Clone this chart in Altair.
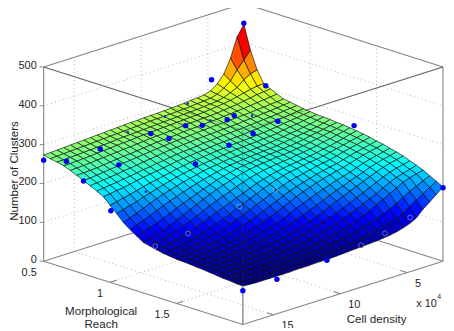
import altair as alt

# Number of clusters: one row per Morphological Reach node, one column per Cell density node
clusters = [
[273,274,275,276,277,278,279,280,281,282,283,284,285,286,286,287,288,288,289,290,291,292,294,295,297,302,315,335,370,420,446],
[269,270,271,272,273,274,275,276,277,278,279,280,281,282,283,284,285,285,286,287,288,289,291,292,294,299,309,322,345,365,385],
[266,266,267,268,269,270,271,272,273,275,276,277,278,279,280,281,282,283,284,285,286,287,289,290,292,296,303,311,325,335,340],
[262,262,263,264,265,267,268,269,271,272,273,275,276,277,278,279,280,281,282,283,284,285,287,289,291,294,298,302,306,309,310],
[255,256,257,258,260,261,263,264,266,267,269,270,272,273,274,275,276,278,279,280,281,282,283,285,287,289,292,295,298,300,302],
[248,249,250,251,253,255,257,259,260,262,264,266,268,269,270,271,273,274,275,276,277,278,280,281,283,284,286,288,290,292,294],
[240,241,243,245,247,249,252,254,256,258,260,262,264,265,267,268,269,271,272,273,274,275,276,277,278,279,281,282,284,285,287],
[232,234,236,238,240,243,245,247,250,252,254,257,259,260,262,263,265,266,267,268,269,270,271,273,274,275,277,278,280,282,284],
[224,226,228,230,233,235,238,241,243,246,248,251,253,255,256,258,260,261,263,264,265,266,267,269,270,272,273,275,277,279,281],
[215,217,220,222,225,229,232,235,237,240,243,246,248,250,252,253,255,257,258,259,260,261,263,264,266,268,270,272,274,276,278],
[198,202,206,210,214,219,223,226,230,233,237,240,243,245,247,249,251,252,254,255,256,257,259,260,262,264,267,269,271,274,276],
[182,187,192,197,203,208,214,218,223,227,231,234,237,240,242,244,246,248,250,251,252,253,255,256,258,261,264,266,269,272,274],
[165,171,178,185,192,199,205,210,215,220,224,228,232,235,237,240,242,243,245,246,248,249,251,253,255,258,260,263,266,270,273],
[152,159,165,172,179,186,193,199,205,211,216,221,225,229,233,236,238,240,242,243,245,246,248,251,253,256,258,261,264,268,272],
[141,146,152,158,165,172,180,187,194,201,207,213,219,224,228,232,235,237,239,241,243,244,246,248,250,253,257,260,263,267,270],
[130,134,139,145,152,160,168,176,184,192,199,206,212,218,223,228,231,234,236,238,240,241,243,246,248,251,255,258,262,265,269],
[126,129,133,138,144,151,158,165,173,181,188,195,201,208,214,220,224,228,231,233,235,237,240,242,245,248,252,255,259,263,267],
[122,124,127,131,136,142,148,155,162,169,176,183,190,197,204,211,216,221,225,228,231,233,236,238,241,245,248,252,256,261,265],
[118,120,122,125,129,133,138,144,151,158,165,173,180,188,195,203,209,215,220,224,227,230,233,235,238,242,246,250,254,258,262],
[116,118,120,122,125,129,133,138,143,149,156,163,170,178,185,193,200,206,212,216,220,224,228,231,234,238,243,247,251,255,259],
[114,116,117,119,121,124,127,131,135,140,146,153,160,167,175,182,190,197,203,208,213,218,222,226,229,234,239,243,247,251,255],
[113,114,115,116,118,120,122,125,128,132,137,143,150,157,164,172,180,188,195,201,207,212,217,221,225,230,235,240,244,248,252],
[112,112,113,114,115,117,119,121,124,127,131,136,141,147,154,161,169,176,183,190,196,202,208,213,218,224,230,235,239,243,247],
[110,111,111,112,113,114,115,117,119,122,125,129,133,138,144,150,157,164,171,178,186,193,199,206,212,218,225,230,235,239,243],
[109,109,110,110,111,111,112,113,115,117,119,122,125,129,134,140,146,153,160,168,176,183,191,198,205,212,219,225,230,234,238],
[107,107,108,108,108,109,109,110,111,113,115,117,120,124,128,133,139,144,150,157,164,172,180,187,195,203,211,218,223,227,231],
[105,105,105,105,106,106,107,108,109,110,111,113,115,118,121,125,130,135,140,147,154,161,169,177,185,194,203,210,215,220,225],
[103,103,103,103,103,104,104,104,105,106,107,108,110,112,115,118,122,126,130,136,143,150,158,167,175,184,194,203,209,214,218],
[102,102,101,101,101,102,102,102,103,103,104,105,106,107,109,112,115,118,121,126,131,136,142,149,156,165,175,185,193,201,209],
[100,100,99,99,99,99,99,100,100,100,101,102,102,104,105,106,108,110,112,115,118,122,127,132,137,145,157,168,179,190,200],
[99,98,97,97,97,97,97,97,98,98,98,99,99,99,100,101,102,103,104,105,106,108,110,113,118,124,133,150,163,177,191],
]

# Scattered measurements
dot_reach = [.5,.671,.8,1.006,1.34,2,2,2,2,2,2,2,.5,.665,1.33,.5,.65,.875,.59,.752,.745,.808,.946,.889,.84,.907,1.154,1.136,1.121,1.07,.655,.665,.826,.959,1.268,1.385,1.4]
dot_density = [17.3,17.3,17.3,17.3,17.3,17.3,14.75,11.0,8.45,6.65,4.76,2.3,2.3,2.3,2.3,4.72,14.55,15.4,11.9,11.78,10.35,9.73,9.85,7.42,6.4,5.74,6.26,7.94,9.59,11.6,9.76,8.15,8.05,14.21,14.12,11.45,8.9]
dot_clusters = [260,276,239,185,130,87,89,97,108,119,139,189,449,306,276,330,275,268,283,296,267,300,317,299,293,293,311,296,282,250,307,324,297,195,120,173,190]
dot_kind = ["top","top","top","top","under","top","top","top","under","under","under","top","top","top","top","top","top","top","bit","top","top","top","top","top","top","bit","top","top","top","top","bit","bit","bit","bit","under","under","under"]

z_ticks = [0,100,200,300,400,500]
reach_ticks = [0.5,1,1.5]
reach_grid = [1,1.5]
density_ticks = [5,10,15]

R0, R1 = 0.5, 2.0
D0, D1 = 2.3, 17.3
Z1 = 500.0
W, H = 442, 320

def project(r, d, z):
    u = (r - R0) / (R1 - R0)
    v = (D1 - d) / (D1 - D0)
    return 44 + 201 * u + 202 * v, 262 + 64 * (u - v) - 196 * z / Z1

n = len(clusters) - 1
reach_nodes = [R0 + (R1 - R0) * i / n for i in range(n + 1)]
density_nodes = [D1 - (D1 - D0) * j / n for j in range(n + 1)]

cells = []
for i in range(n):
    for j in range(n):
        corners = [(i, j), (i + 1, j), (i + 1, j + 1), (i, j + 1)]
        ring = []
        for a, b in corners + corners[:1]:
            px, py = project(reach_nodes[a], density_nodes[b], clusters[a][b])
            ring.append([round(px - 8, 2), round(py - 8, 2)])
        zm = sum(clusters[a][b] for a, b in corners) / 4
        cells.append((i - j, {"type": "Feature", "geometry": {"type": "Polygon", "coordinates": [ring]}, "properties": {"z": zm}}))
cells.sort(key=lambda c: c[0])
features = [c[1] for c in cells]

def seg(a, b):
    p, q = project(*a), project(*b)
    return {"x": p[0], "y": p[1], "x2": q[0], "y2": q[1]}

xs = alt.Scale(domain=[8, 8 + W], nice=False, zero=False)
ys = alt.Scale(domain=[8 + H, 8], nice=False, zero=False)

def rules(rows, **mk):
    return alt.Chart(alt.Data(values=rows)).mark_rule(**mk).encode(
        x=alt.X("x:Q", scale=xs, axis=None), y=alt.Y("y:Q", scale=ys, axis=None),
        x2="x2:Q", y2="y2:Q")

grid_rows = []
for t in reach_grid:
    grid_rows.append(seg((t, D1, 0), (t, D0, 0)))
    grid_rows.append(seg((t, D0, 0), (t, D0, Z1)))
for t in density_ticks:
    grid_rows.append(seg((R0, t, 0), (R1, t, 0)))
    grid_rows.append(seg((R0, t, 0), (R0, t, Z1)))
for t in z_ticks[1:-1]:
    grid_rows.append(seg((R0, D1, t), (R0, D0, t)))
    grid_rows.append(seg((R0, D0, t), (R1, D0, t)))
grid = rules(grid_rows, color="#b4b4b4", strokeWidth=1, strokeDash=[1, 3])

back_rows = [
    seg((R0, D1, 0), (R0, D0, 0)), seg((R0, D0, 0), (R1, D0, 0)),
    seg((R0, D1, Z1), (R0, D0, Z1)), seg((R0, D0, Z1), (R1, D0, Z1)),
    seg((R0, D1, 0), (R0, D1, Z1)), seg((R1, D0, 0), (R1, D0, Z1)),
    seg((R0, D1, Z1), (R1, D1, Z1)), seg((R1, D1, Z1), (R1, D0, Z1)),
]
back = rules(back_rows, color="#858585", strokeWidth=1.1)

faint_rows = [seg((R0, D1, Z1), (R1, D1, Z1)), seg((R1, D1, Z1), (R1, D0, Z1)), seg((R1, D1, 0), (R1, D1, Z1))]
faint = rules(faint_rows, color="#333333", strokeWidth=0.8, opacity=0.45)

front_rows = [seg((R0, D1, 0), (R1, D1, 0)), seg((R1, D1, 0), (R1, D0, 0)), seg((R1, D1, 0), (R1, D1, 99))]
for t in reach_ticks[1:]:
    front_rows.append(seg((t, D1, 0), (t, D1 - 0.5, 0)))
for t in density_ticks:
    front_rows.append(seg((R1, t, 0), (R1 - 0.05, t, 0)))
front = rules(front_rows, color="#858585", strokeWidth=1.1)

tick_rows = []
for t in z_ticks:
    a = project(R0, D1, t)
    tick_rows.append({"x": a[0] - 4, "y": a[1], "x2": a[0], "y2": a[1]})
zt = rules(tick_rows, color="#858585", strokeWidth=1)

jet_dom = [100, 148, 227.9, 315.1, 402.4, 446]
jet_rng = ["#00008f", "#0000ff", "#00ffff", "#ffff00", "#ff0000", "#800000"]
surface = alt.Chart(alt.Data(values=features)).mark_geoshape(
    stroke="#0a0a0a", strokeWidth=0.75, strokeOpacity=0.85
).encode(
    color=alt.Color("properties.z:Q", scale=alt.Scale(domain=jet_dom, range=jet_rng, interpolate="rgb"), legend=None)
).project(type="identity", scale=1, translate=[0, 0])

dots = []
for r, d, z, k in zip(dot_reach, dot_density, dot_clusters, dot_kind):
    p = project(r, d, z)
    dots.append({"x": p[0], "y": p[1], "kind": k})

def dot_layer(kind):
    return alt.Chart(alt.Data(values=dots)).transform_filter(alt.datum.kind == kind)

enc = dict(x=alt.X("x:Q", scale=xs, axis=None), y=alt.Y("y:Q", scale=ys, axis=None))
under_dots = dot_layer("under").mark_circle(size=30, color="#0000ee", opacity=1).encode(**enc)
rings = dot_layer("under").mark_point(size=24, color="#b4c2e8", strokeWidth=0.9, filled=False, opacity=0.6).encode(**enc)
top_dots = dot_layer("top").mark_circle(size=30, color="#0000ee", opacity=1).encode(**enc)
bit_dots = dot_layer("bit").mark_circle(size=7, color="#2020cc", opacity=1).encode(**enc)

FONT = "Liberation Sans"
TXT = "#262626"
def tick_text(rows, **mk):
    return alt.Chart(alt.Data(values=rows)).mark_text(font=FONT, fontSize=11, color=TXT, baseline="middle", **mk).encode(
        text="t:N", **enc)

z_rows = [dict(zip(("x", "y"), project(R0, D1, t)), t=str(t)) for t in z_ticks]
r_rows = [dict(zip(("x", "y"), project(t, D1, 0)), t=str(t)) for t in reach_ticks]
d_rows = [dict(zip(("x", "y"), project(R1, t, 0)), t=str(t)) for t in density_ticks]
z_text = tick_text(z_rows, align="right", dx=-7, dy=-1)
r_text = tick_text(r_rows, align="right", dx=-7, dy=12)
d_text = tick_text(d_rows, align="left", dx=8, dy=11.5)

def label(text, x, y, size=11.7, angle=None, align="center"):
    kw = dict(font=FONT, fontSize=size, color=TXT, align=align, baseline="middle")
    if angle is not None:
        kw["angle"] = angle
    return alt.Chart(alt.Data(values=[{"t": text}])).mark_text(**kw).encode(
        x=alt.value(x - 8), y=alt.value(y - 8), text="t:N")

labels = [
    label("Number of Clusters", 14, 171, angle=270),
    label("Morphological", 102, 312),
    label("Reach", 102, 325),
    label("Cell density", 380, 320),
    label("x 10", 420, 305, size=11, align="left"),
    label("4", 443, 298, size=7),
]

chart = alt.layer(grid, back, under_dots, surface, faint, front, zt, rings, top_dots, bit_dots,
                  z_text, r_text, d_text, *labels).resolve_scale(color="independent").properties(
    width=W, height=H, padding=0, autosize=alt.AutoSizeParams(type="none")
).configure_view(stroke=None)

chart.save("out.html", embed_options={"renderer": "svg", "actions": False})
